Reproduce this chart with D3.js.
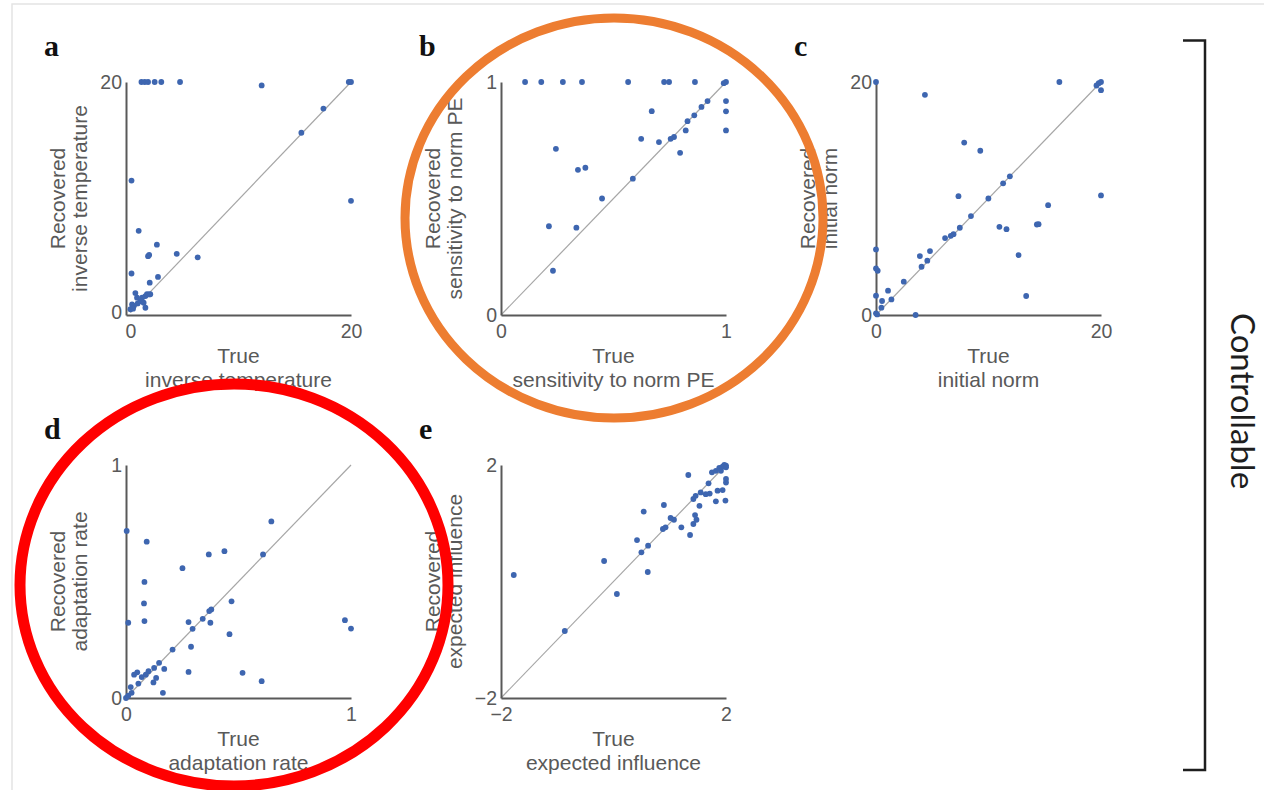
<!DOCTYPE html>
<html>
<head>
<meta charset="utf-8">
<script src="https://cdn.jsdelivr.net/npm/d3@7"></script>
<style>
body{margin:0;background:#fff;}
svg{display:block;font-family:Arial,"Liberation Sans",sans-serif;}
</style>
</head>
<body>
<div id="fig"></div>
<script>
// values: true vs recovered parameter, one pair of arrays per panel
var aTrue = [1.0,1.3,1.6,2.2,2.8,4.5,11.9,19.8,20,17.5,15.5,20,0.1,0.75,2.4,1.6,1.7,4.2,6.1,0.1,2.5,1.75,0.45,0.6,1.36,1.5,1.66,0.15,0.3,0.9,1.2,1.36,0,0.24,0.66,1.06,1.8]
var aRec  = [20,20,20,20,20,20,19.7,20,20,17.7,15.6,9.7,11.45,7.1,5.9,4.9,5.0,5.1,4.8,3.4,3.1,2.6,1.7,1.3,1.44,1.6,1.58,0.72,0.58,1.0,0.86,0.43,0.3,0.35,0.8,1.3,1.6]

var bTrue = [0.107,0.179,0.275,0.36,0.565,0.725,0.747,0.862,1.0,0.99,1.0,1.0,1.0,0.918,0.891,0.859,0.829,0.821,0.796,0.769,0.754,0.702,0.67,0.623,0.586,0.449,0.375,0.342,0.244,0.213,0.335,0.231]
var bRec  = [1,1,1,1,1,1,1,1,1,0.995,0.918,0.874,0.792,0.918,0.893,0.857,0.832,0.792,0.696,0.764,0.756,0.742,0.875,0.756,0.585,0.5,0.632,0.623,0.713,0.381,0.375,0.19]

var cTrue = [0,4.35,16.3,19.8,20,19.6,20,7.84,9.27,11.9,11.3,7.33,9.99,20,8.44,7.45,6.89,6.65,6.14,10.97,11.6,15.3,14.3,14.45,12.67,13.35,3.9,4.8,4.56,4.05,2.47,1.07,1.37,0.54,0.48,3.52,0,0,0.15,0,0,0.1]
var cRec  = [20,18.9,20,19.9,20,19.7,19.3,14.8,14.1,11.9,11.3,10.2,10.0,10.26,8.49,7.49,6.94,6.8,6.6,7.57,7.37,9.43,7.77,7.8,5.14,1.63,5.06,5.49,4.66,4.14,2.86,2.09,1.34,1.2,0.63,0,5.63,4.0,3.8,1.66,0.14,0.05]

var dTrue = [0.003,0.092,0.082,0.08,0.082,0.01,0.646,0.609,0.368,0.4375,0.251,0.469,0.379,0.37,0.341,0.278,0.375,0.296,0.46,0.973,1.0,0.207,0.289,0.278,0.518,0.603,0.17,0.147,0.125,0.1,0.088,0.05,0.036,0.134,0.122,0.164,0.055,0.021,0.025,0.01,0,0.07]
var dRec  = [0.717,0.671,0.498,0.406,0.33,0.323,0.758,0.616,0.616,0.63,0.557,0.415,0.38,0.373,0.34,0.326,0.323,0.297,0.274,0.334,0.298,0.208,0.22,0.112,0.108,0.072,0.125,0.151,0.129,0.115,0.1,0.11,0.1,0.086,0.067,0.022,0.062,0.047,0.022,0.01,0,0.09]

var eTrue = [-1.773,-0.866,0.06,-0.167,0.609,0.496,0.615,0.418,0.537,0.896,0.878,0.925,1.015,1.075,1.206,1.361,1.42,1.475,1.45,1.528,1.33,1.42,1.46,1.55,1.64,1.71,1.69,1.75,1.82,1.85,1.94,1.99,2.0,2.0,1.82,1.88,1.94,2.0,1.97,2.0,1.91]
var eRec  = [0.112,-0.85,-0.215,0.352,0.163,0.501,0.615,0.712,1.2,1.313,0.901,0.93,1.09,1.06,0.93,0.798,0.987,1.06,1.14,1.3,1.828,1.416,1.47,1.53,1.5,1.51,1.685,1.874,1.376,1.56,1.57,1.39,1.70,1.76,1.90,1.95,1.97,1.99,2.0,1.96,1.9]

// tick labels (only the two ends are labelled)
var aTicks = [0, 20]
var bTicks = [0, 1]
var cTicks = [0, 20]
var dTicks = [0, 1]
var eTicks = [-2, 2]

var letters = ['a', 'b', 'c', 'd', 'e']
var paramNames = ['inverse temperature', 'sensitivity to norm PE', 'initial norm', 'adaptation rate', 'expected influence']
var sideLabel = 'Controllable'

var width = 1264, height = 790
var W = 225, H = 233
var colX = [126, 501, 876], rowY = [82, 465]
var gray = '#595959', dotColor = '#3e66b0'

var panels = [
    {xs: aTrue, ys: aRec, ticks: aTicks, col: 0, row: 0, pad: 0.4},
    {xs: bTrue, ys: bRec, ticks: bTicks, col: 1, row: 0, pad: 0},
    {xs: cTrue, ys: cRec, ticks: cTicks, col: 2, row: 0, pad: 0},
    {xs: dTrue, ys: dRec, ticks: dTicks, col: 0, row: 1, pad: 0},
    {xs: eTrue, ys: eRec, ticks: eTicks, col: 1, row: 1, pad: 0}
]

var svg = d3.select('#fig')
    .append('svg')
    .attr('width', width)
    .attr('height', height)

// faint frame of the original screenshot
svg.append('path')
    .attr('d', 'M12,' + height + ' V4 H' + width)
    .attr('fill', 'none')
    .attr('stroke', '#e4e4e4')
    .attr('stroke-width', 1.5)

panels.forEach(function(p, i){
    var left = colX[p.col], top = rowY[p.row]
    var lo = p.ticks[0], hi = p.ticks[1]

    var x = d3.scaleLinear().domain([lo - p.pad, hi]).range([0, W])
    var y = d3.scaleLinear().domain([lo - p.pad / 2, hi]).range([H, 0])

    var g = svg.append('g')
        .attr('transform', 'translate(' + left + ',' + top + ')')

    // identity line
    g.append('path')
        .attr('d', d3.line()([[x(lo), y(lo)], [x(hi), y(hi)]]))
        .attr('stroke', '#a6a6a6')
        .attr('stroke-width', 1.2)

    var xAxis = g.append('g')
        .attr('transform', 'translate(0,' + H + ')')
        .call(d3.axisBottom(x).tickValues(p.ticks).tickFormat(d3.format('d')).tickSize(0).tickSizeOuter(0).tickPadding(9))
    var yAxis = g.append('g')
        .call(d3.axisLeft(y).tickValues(p.ticks).tickFormat(d3.format('d')).tickSize(0).tickSizeOuter(0).tickPadding(4))

    ;[xAxis, yAxis].forEach(function(ax){
        ax.select('.domain').attr('stroke', gray).attr('stroke-width', 2)
        ax.selectAll('text')
            .attr('fill', gray)
            .style('font-size', '19.5px')
            .style('font-family', 'Arial, "Liberation Sans", sans-serif')
    })

    g.selectAll('.dot')
        .data(p.xs.map(function(v, k){ return [v, p.ys[k]] }))
        .enter().append('circle')
        .attr('class', 'dot')
        .attr('cx', function(d){ return x(d[0]) })
        .attr('cy', function(d){ return y(d[1]) })
        .attr('r', 2.9)
        .attr('fill', dotColor)

    // axis titles
    var xt = g.append('text')
        .attr('text-anchor', 'middle')
        .attr('fill', gray)
        .style('font-size', '21px')
    xt.append('tspan').attr('x', W / 2).attr('y', H + 48).text('True')
    xt.append('tspan').attr('x', W / 2).attr('y', H + 72).text(paramNames[i])

    var yt = g.append('text')
        .attr('text-anchor', 'middle')
        .attr('fill', gray)
        .attr('transform', 'rotate(-90)')
        .style('font-size', '21px')
    yt.append('tspan').attr('x', -H / 2).attr('y', -61).text('Recovered')
    yt.append('tspan').attr('x', -H / 2).attr('y', -39).text(paramNames[i])

    svg.append('text')
        .attr('x', left - 82)
        .attr('y', top - 26)
        .attr('font-family', '"Liberation Serif", "Times New Roman", serif')
        .attr('font-weight', 'bold')
        .attr('font-size', 30)
        .attr('fill', '#111')
        .text(letters[i])
})

// bracket on the right
svg.append('path')
    .attr('d', 'M1183,40.5 H1205 V770 H1183')
    .attr('fill', 'none')
    .attr('stroke', '#1e1e1e')
    .attr('stroke-width', 2.5)

svg.append('text')
    .attr('transform', 'translate(1231,401) rotate(90)')
    .attr('text-anchor', 'middle')
    .attr('font-family', 'Lato, "Open Sans", sans-serif')
    .attr('font-size', 33)
    .attr('fill', '#1e1e1e')
    .text(sideLabel)

// hand-drawn highlight ellipses on top
svg.append('ellipse')
    .attr('cx', 614).attr('cy', 218).attr('rx', 209).attr('ry', 200)
    .attr('fill', 'none')
    .attr('stroke', '#ed7d31')
    .attr('stroke-width', 9)

svg.append('ellipse')
    .attr('cx', 234).attr('cy', 585).attr('rx', 214).attr('ry', 201)
    .attr('fill', 'none')
    .attr('stroke', '#ff0000')
    .attr('stroke-width', 11)
</script>
</body>
</html>
